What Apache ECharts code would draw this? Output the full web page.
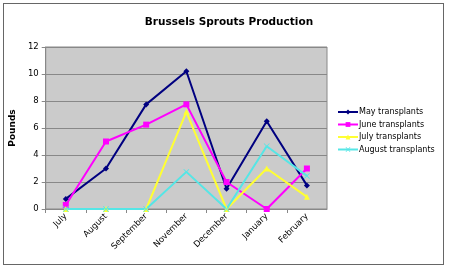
<!DOCTYPE html>
<html>
<head>
<meta charset="utf-8">
<script src="https://cdn.jsdelivr.net/npm/echarts@6/dist/echarts.min.js"></script>
<style>
html,body{margin:0;padding:0;background:#fff;}
#frame{position:absolute;left:3px;top:3px;width:441px;height:262px;border:1px solid #666;box-sizing:border-box;}
#c{position:absolute;left:0;top:0;width:451px;height:271px;}
</style>
</head>
<body>
<div id="frame"></div>
<div id="c"></div>
<script>
var categories = ['July','August','September','November','December','January','February'];
var mayTransplants = [0.75, 3, 7.75, 10.2, 1.5, 6.5, 1.75];
var juneTransplants = [0.3, 5, 6.25, 7.75, 2, 0, 3];
var julyTransplants = [0, 0, 0, 7.2, 0, 3, 0.9];
var augustTransplants = [0, 0, 0, 2.75, 0, 4.65, 2.45];
var seriesNames = ['May transplants','June transplants','July transplants','August transplants'];
var yTicks = [0, 2, 4, 6, 8, 10, 12];

var font = 'Verdana, "DejaVu Sans", sans-serif';
var xSym = 'path://M0,1L1,0L5,4L9,0L10,1L6,5L10,9L9,10L5,6L1,10L0,9L4,5Z';

function mk(name, data, color, symbol, size) {
  return {
    name: name, type: 'line', data: data,
    symbol: symbol, symbolSize: size,
    lineStyle: {color: color, width: 2},
    itemStyle: {color: color},
    animation: false
  };
}

var chart = echarts.init(document.getElementById('c'), null, {renderer: 'canvas'});
chart.setOption({
  backgroundColor: 'transparent',
  animation: false,
  title: {
    text: 'Brussels Sprouts Production',
    left: 224, top: 12, textAlign: 'center',
    textStyle: {fontFamily: font, fontSize: 10.5, fontWeight: 'bold', color: '#000'}
  },
  legend: {
    orient: 'vertical', left: 332, top: 103,
    itemWidth: 20, itemHeight: 6, itemGap: 4.5,
    textStyle: {fontFamily: font, fontSize: 8, color: '#000', padding: [0,0,0,-4]},
    data: seriesNames
  },
  grid: {
    left: 45, right: 124, top: 47, bottom: 62,
    show: true, backgroundColor: '#cbcbcb', borderColor: '#888', borderWidth: 1
  },
  xAxis: {
    type: 'category', data: categories, boundaryGap: true,
    axisLine: {lineStyle: {color: '#888'}},
    axisTick: {show: true, length: 4, lineStyle: {color: '#888'}},
    axisLabel: {rotate: 45, fontFamily: font, fontSize: 8.5, color: '#000', margin: 6}
  },
  yAxis: {
    type: 'value', min: yTicks[0], max: yTicks[yTicks.length-1], interval: 2,
    name: 'Pounds', nameLocation: 'middle', nameGap: 22, nameRotate: 90,
    nameTextStyle: {fontFamily: font, fontSize: 9, fontWeight: 'bold', color: '#000'},
    axisLine: {show: true, lineStyle: {color: '#888'}},
    axisTick: {show: true, length: 4, lineStyle: {color: '#888'}},
    axisLabel: {fontFamily: font, fontSize: 8.5, color: '#000', margin: 7},
    splitLine: {show: true, lineStyle: {color: '#888', width: 1}}
  },
  series: [
    mk(seriesNames[0], mayTransplants, '#000080', 'diamond', 6),
    mk(seriesNames[1], juneTransplants, '#ff00ff', 'rect', 6),
    mk(seriesNames[2], julyTransplants, '#ffff33', 'triangle', 6),
    mk(seriesNames[3], augustTransplants, '#55e6e6', xSym, 6)
  ]
});
</script>
</body>
</html>
